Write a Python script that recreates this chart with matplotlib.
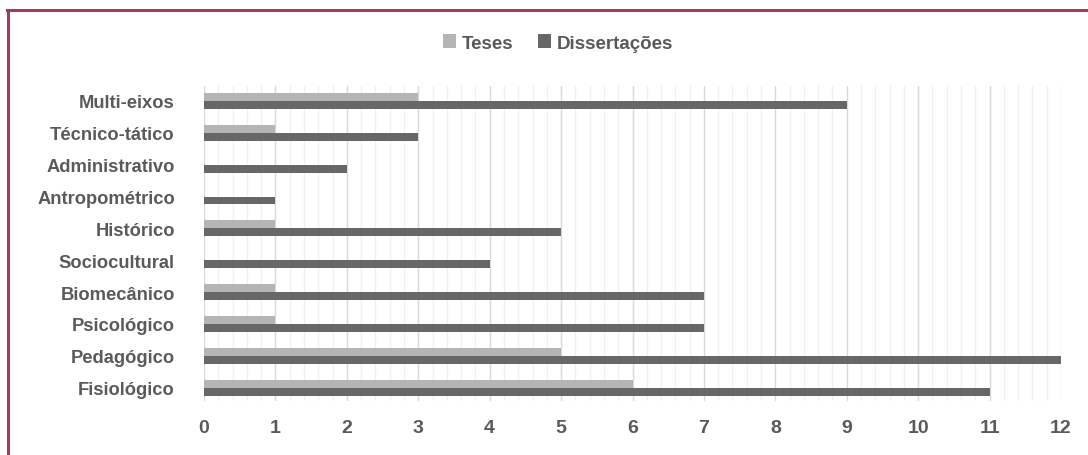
import numpy as np
import matplotlib.pyplot as plt
from matplotlib.lines import Line2D
from matplotlib.ticker import MultipleLocator

plt.rcParams['font.family'] = ['Liberation Sans', 'DejaVu Sans']

categorias = ['Multi-eixos', 'Técnico-tático', 'Administrativo', 'Antropométrico',
              'Histórico', 'Sociocultural', 'Biomecânico', 'Psicológico',
              'Pedagógico', 'Fisiológico']
teses = [3, 1, 0, 0, 1, 0, 1, 1, 5, 6]
dissertacoes = [9, 3, 2, 1, 5, 4, 7, 7, 12, 11]

COR_TESES = '#b5b5b5'
COR_DISS = '#676767'
COR_TEXTO = '#5a5a5a'

W, H = 1088, 456
fig = plt.figure(figsize=(W / 100, H / 100), dpi=100)
ax = fig.add_axes([204 / W, 1 - 402 / H, (1061 - 204) / W, (402 - 87) / H])

y = np.arange(len(categorias))
h = 0.25
ax.barh(y - h / 2, teses, height=h, color=COR_TESES, label='Teses', zorder=3)
ax.barh(y + h / 2, dissertacoes, height=h, color=COR_DISS, label='Dissertações', zorder=3)

ax.set_xlim(0, 12)
ax.set_ylim(9.42, -0.47)
ax.set_yticks(y)
ax.set_yticklabels(categorias)
ax.xaxis.set_major_locator(MultipleLocator(1))
ax.xaxis.set_minor_locator(MultipleLocator(0.2))
ax.grid(axis='x', which='major', color='#d9d9d9', linewidth=1.0, zorder=0)
ax.grid(axis='x', which='minor', color='#f0f0f0', linewidth=1.0, zorder=0)
ax.grid(axis='y', visible=False)

for s in ax.spines.values():
    s.set_visible(False)
ax.tick_params(axis='both', which='both', length=0)
ax.tick_params(axis='y', pad=21, labelsize=13.2, labelcolor=COR_TEXTO)
ax.tick_params(axis='x', pad=13, labelsize=14, labelcolor=COR_TEXTO)
for lbl in ax.get_yticklabels() + ax.get_xticklabels():
    lbl.set_fontweight('bold')

fig.legend(loc='center', bbox_to_anchor=(558 / W, 1 - 44 / H), ncol=2, frameon=False,
           prop={'size': 13.5, 'weight': 'bold'}, labelcolor=COR_TEXTO,
           handlelength=0.7, handleheight=0.7, handletextpad=0.3, columnspacing=1.3)

# moldura
fig.add_artist(Line2D([7 / W, 1], [1 - 11 / H] * 2, color='#a33b62', linewidth=2.2))
fig.add_artist(Line2D([8 / W] * 2, [0, 1 - 11 / H], color='#a33b62', linewidth=2.2))

fig.savefig('out.png', dpi=100)
